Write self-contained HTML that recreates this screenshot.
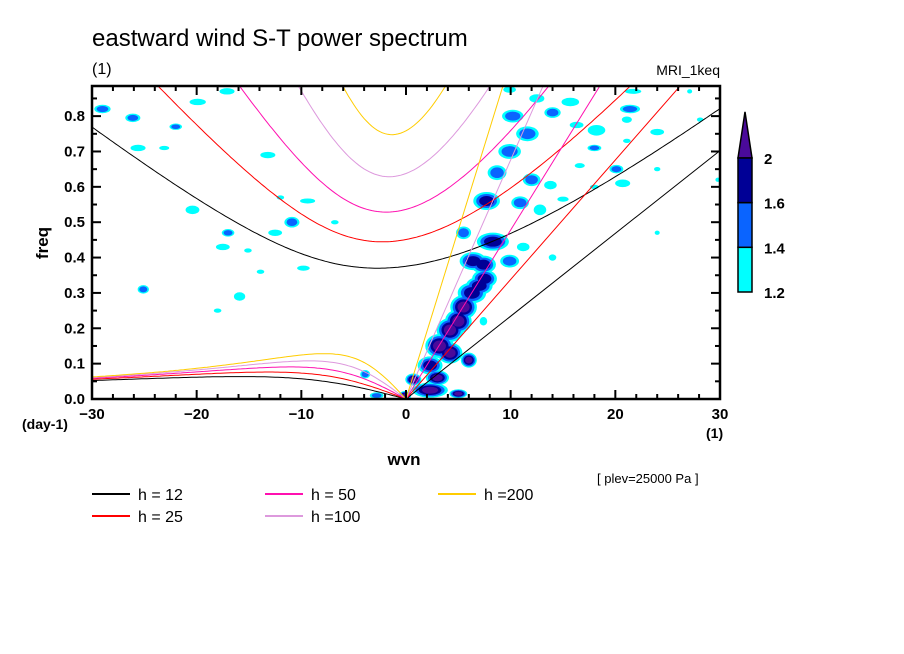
<!DOCTYPE html>
<html><head><meta charset="utf-8"><style>
html,body{margin:0;padding:0;background:#fff;}
svg{display:block;font-family:"Liberation Sans",sans-serif;}
</style></head><body>
<svg id="chart" width="904" height="654" viewBox="0 0 904 654" xmlns="http://www.w3.org/2000/svg">
<text x="92" y="46" font-size="24" fill="#000">eastward wind S-T power spectrum</text>
<text x="92" y="74" font-size="16" fill="#000">(1)</text>
<text x="720" y="75" font-size="14" fill="#000" text-anchor="end">MRI_1keq</text>
<defs><clipPath id="plotclip"><rect x="92" y="86" width="628" height="313"/></clipPath></defs>
<g id="blobs" clip-path="url(#plotclip)"></g>
<g id="curves" clip-path="url(#plotclip)"></g>
<g id="axes"></g>
<text x="48" y="243" font-size="17" font-weight="bold" text-anchor="middle" transform="rotate(-90 48 243)">freq</text>
<text x="22" y="429" font-size="14" font-weight="bold">(day-1)</text>
<text x="404" y="465" font-size="17" font-weight="bold" text-anchor="middle">wvn</text>
<text x="706" y="438" font-size="14" font-weight="bold">(1)</text>
<text x="597" y="483" font-size="13">[ plev=25000 Pa ]</text>
<g id="legend"></g>
<g id="colorbar"></g>
</svg>
<script>
const depths=[12,25,50,100,200];
const depthColors=['#000000','#ff0000','#ff10b0','#dd99dd','#ffcc00'];
const legendLabels=['h = 12','h = 25','h = 50','h =100','h =200'];
const xTicks=[-30,-20,-10,0,10,20,30];
const xTickLabels=['\u221230','\u221220','\u221210','0','10','20','30'];
const yTicks=[0,0.1,0.2,0.3,0.4,0.5,0.6,0.7,0.8];
const yTickLabels=['0.0','0.1','0.2','0.3','0.4','0.5','0.6','0.7','0.8'];
const cbLevels=[1.2,1.4,1.6,2];
const cbColors=['#00ffff','#0a64ff','#000096','#4a0a9a'];
// contour blobs: wavenumber, frequency, level (1-4), extent in wn, extent in freq
const blobWn=[-0.1,0.7,2.3,3,5,2.3,3.2,4.2,6,4.2,5,5.5,6.3,7,7.4,7.5,6.4,8.3,9.9,5.5,7.7,10.9,12.8,8.7,12,13.8,9.9,11.6,10.2,14,12.5,9.9,11.2,14,7.4,-3.9,-2.8,
 -29,-26.1,-19.9,-17.1,-22,-25.6,-23.1,-13.2,-20.4,-10.9,-12,-9.4,-17,-17.5,-12.5,-15.1,-25.1,-15.9,-13.9,-9.8,-6.8,-18,
 15.7,21.4,21.1,18.2,16.3,21.7,24,21.1,18,16.6,20.1,20.7,18,24,15,27.1,28.1,29.8,24];
const blobFreq=[0.01,0.055,0.025,0.06,0.015,0.095,0.15,0.13,0.11,0.195,0.22,0.26,0.30,0.32,0.38,0.34,0.39,0.445,0.39,0.47,0.56,0.555,0.535,0.64,0.62,0.605,0.70,0.75,0.80,0.81,0.85,0.875,0.43,0.40,0.22,0.07,0.01,
 0.82,0.795,0.84,0.87,0.77,0.71,0.71,0.69,0.535,0.50,0.57,0.56,0.47,0.43,0.47,0.42,0.31,0.29,0.36,0.37,0.50,0.25,
 0.84,0.82,0.79,0.76,0.775,0.87,0.755,0.73,0.71,0.66,0.65,0.61,0.60,0.65,0.565,0.87,0.79,0.62,0.47];
const blobLevel=[4,4,4,4,4,3,4,4,4,4,4,4,3,3,3,3,3,3,2,2,3,2,1,2,2,1,2,2,2,2,1,1,1,1,1,2,2,
 2,2,1,1,2,1,1,1,1,2,1,1,2,1,1,1,2,1,1,1,1,1,
 1,2,1,1,1,1,1,1,2,1,2,1,1,1,1,1,1,1,1];
const blobSizeWn=[0.7,0.9,2.0,1.3,1.0,1.4,1.6,1.4,0.9,1.5,1.5,1.5,1.6,1.5,1.4,1.4,1.5,1.8,1.5,1.2,1.5,1.4,1.0,1.5,1.4,1.0,1.8,1.8,1.7,1.3,1.2,1.0,1.0,0.6,0.6,0.8,1.1,
 1.3,1.2,1.3,1.2,1.0,1.2,0.8,1.2,1.1,1.2,0.6,1.2,1.0,1.1,1.1,0.6,0.9,0.9,0.6,1.0,0.6,0.6,
 1.4,1.6,0.8,1.4,1.1,1.3,1.1,0.6,1.1,0.8,1.1,1.2,0.7,0.5,0.9,0.4,0.5,0.4,0.4];
const blobSizeFreq=[0.015,0.02,0.025,0.025,0.015,0.03,0.04,0.035,0.025,0.04,0.04,0.04,0.035,0.03,0.03,0.03,0.03,0.03,0.03,0.03,0.03,0.03,0.025,0.035,0.03,0.02,0.035,0.035,0.03,0.025,0.02,0.015,0.02,0.015,0.02,0.02,0.015,
 0.02,0.02,0.015,0.015,0.015,0.015,0.01,0.015,0.02,0.025,0.01,0.012,0.018,0.015,0.015,0.01,0.02,0.02,0.01,0.012,0.01,0.01,
 0.02,0.02,0.015,0.025,0.015,0.012,0.015,0.01,0.015,0.012,0.02,0.018,0.01,0.01,0.012,0.01,0.01,0.01,0.01];

const NS='http://www.w3.org/2000/svg';
const X0=92,X1=720,Y0=399,YTOP=86;
function xs(s){return X0+(s+30)*(X1-X0)/60;}
function ys(f){return Y0-f*353.6;}
function mk(tag,attrs,parent){const e=document.createElementNS(NS,tag);for(const k in attrs)e.setAttribute(k,attrs[k]);parent.appendChild(e);return e;}

// blobs
const bg=document.getElementById('blobs');
for(let lv=1;lv<=4;lv++){
  for(let i=0;i<blobWn.length;i++){
    const L=blobLevel[i]; if(L<lv) continue;
    const base=L>=3?0.85:0.6;
    const sc=base*(1-(lv-1)/(L+1.5));
    const e=mk('ellipse',{cx:xs(blobWn[i]),cy:ys(blobFreq[i]),rx:blobSizeWn[i]*10.467*sc,ry:blobSizeFreq[i]*353.6*sc,fill:cbColors[lv-1]},bg);
    
    
  }
}

// dispersion curves
const a=6.371e6,Om=7.292e-5,beta=2*Om/a,g=9.81,cpd=86400/(2*Math.PI);
function solve(w,A,B){for(let j=0;j<40;j++){const f=w*w*w-A*w-B,d=3*w*w-A;w-=f/d;}return w;}
function ig(s,c){const k=s/a,A=c*c*(k*k+3*beta/c),B=beta*k*c*c;return solve(Math.sqrt(A),A,B)*cpd;}
function er(s,c){const k=s/a,A=c*c*(k*k+3*beta/c),B=beta*k*c*c;if(s===0)return 0;return solve(-beta*k/(k*k+3*beta/c),A,B)*cpd;}
const cg=document.getElementById('curves');
depths.forEach((h,i)=>{
  const c=Math.sqrt(g*h);
  let p1=[],p2=[];
  for(let s=-30;s<=30.001;s+=0.25){p1.push(xs(s).toFixed(1)+','+ys(ig(s,c)).toFixed(1));}
  for(let s=-30;s<=0.001;s+=0.25){p2.push(xs(s).toFixed(1)+','+ys(er(s,c)).toFixed(1));}
  const kf=c*(30/a)*cpd;
  let e=mk('polyline',{points:p1.join(' '),fill:'none',stroke:depthColors[i],'stroke-width':1},cg);
  
  
  e=mk('polyline',{points:p2.join(' '),fill:'none',stroke:depthColors[i],'stroke-width':1},cg);
  
  
  e=mk('line',{x1:xs(0),y1:ys(0),x2:xs(30),y2:ys(kf),stroke:depthColors[i],'stroke-width':1},cg);
  
  
});

// axes
const ag=document.getElementById('axes');
let fr=mk('rect',{x:X0,y:YTOP,width:X1-X0,height:Y0-YTOP,fill:'none',stroke:'#000','stroke-width':2.5},ag);


for(let s=-30;s<=30;s+=2){
  const major=(s%10===0),len=major?9:5;
  mk('line',{x1:xs(s),y1:Y0,x2:xs(s),y2:Y0-len,stroke:'#000','stroke-width':2},ag);
  mk('line',{x1:xs(s),y1:YTOP,x2:xs(s),y2:YTOP+len,stroke:'#000','stroke-width':2},ag);
}
for(let f=0;f<=0.88;f+=0.05){
  const major=Math.abs(Math.round(f*10)-f*10)<1e-6,len=major?9:5;
  mk('line',{x1:X0,y1:ys(f),x2:X0+len,y2:ys(f),stroke:'#000','stroke-width':2},ag);
  mk('line',{x1:X1,y1:ys(f),x2:X1-len,y2:ys(f),stroke:'#000','stroke-width':2},ag);
}
xTicks.forEach((t,i)=>{
  const e=mk('text',{x:xs(t),y:419,'font-size':15,'font-weight':'bold','text-anchor':'middle'},ag);
  e.textContent=xTickLabels[i];
  
  
});
yTicks.forEach((t,i)=>{
  const e=mk('text',{x:85,y:ys(t)+5,'font-size':15,'font-weight':'bold','text-anchor':'end'},ag);
  e.textContent=yTickLabels[i];
  
  
});

// legend
const lg=document.getElementById('legend');
depths.forEach((h,i)=>{
  const col=Math.floor(i/2),row=i%2;
  const x=92+col*173,y=494+row*22;
  let e=mk('line',{x1:x,y1:y,x2:x+38,y2:y,stroke:depthColors[i],'stroke-width':2},lg);
  
  
  e=mk('text',{x:x+46,y:y+6,'font-size':16},lg);
  e.textContent=legendLabels[i];
  
  
});

// colorbar
const cb=document.getElementById('colorbar');
const cbX=738,cbW=14,cbBot=292,cbStep=44.7;
for(let i=0;i<3;i++){
  const yb=cbBot-i*cbStep;
  const e=mk('rect',{x:cbX,y:yb-cbStep,width:cbW,height:cbStep,fill:cbColors[i],stroke:'#000','stroke-width':1.5},cb);
  
  
}
const ytri=cbBot-3*cbStep;
let tri=mk('polygon',{points:`${cbX},${ytri} ${cbX+cbW},${ytri} ${cbX+cbW/2},${ytri-46}`,fill:cbColors[3],stroke:'#000','stroke-width':1.5},cb);


cbLevels.forEach((v,i)=>{
  const y=i<3?cbBot-i*cbStep:ytri;
  const e=mk('text',{x:764,y:y+6,'font-size':15,'font-weight':'bold'},cb);
  e.textContent=String(v);
  
  
});
</script>
</body></html>
